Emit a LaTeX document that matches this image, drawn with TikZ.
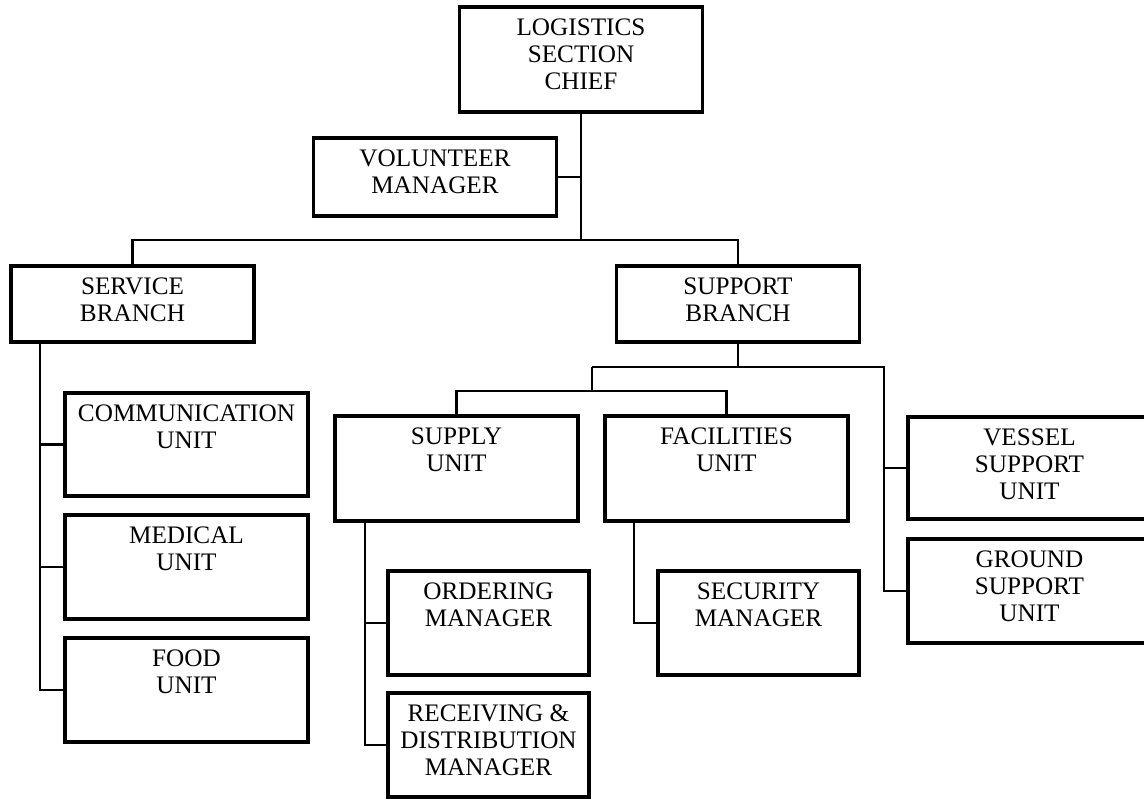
\documentclass[tikz,border=0pt]{standalone}
\usepackage{fontspec}
\setmainfont{Liberation Serif}
\usetikzlibrary{positioning}
\tikzset{
  unitbox/.style={draw=black, line width=3.6pt, inner sep=0pt, outer sep=0pt,
    minimum width=243pt, minimum height=#1},
  unitbox/.default=104pt,
  unittext/.style={inner sep=0pt, align=center, font=\fontsize{25.2}{27}\selectfont},
  link/.style={draw=black, line width=2.6pt}
}

\begin{document}
\begin{tikzpicture}[x=1pt,y=-1pt]
\path[use as bounding box, clip] (0,0) rectangle (1144,799);

\node[unitbox=105pt] (chief) at (581,59.5) {};
\node[unittext, below=12pt of chief.north] {LOGISTICS\\SECTION\\CHIEF};
\node[unitbox=78pt] (volunteer) at (435,177) {};
\node[unittext, below=12pt of volunteer.north] {VOLUNTEER\\MANAGER};

\node[unitbox=76pt] (service) at (132.5,304) {};
\node[unittext, below=12pt of service.north] {SERVICE\\BRANCH};
\node[unitbox=76pt] (support) at (738,304) {};
\node[unittext, below=12pt of support.north] {SUPPORT\\BRANCH};

\node[unitbox=103pt] (comm) at (186.5,444.5) {};
\node[unittext, below=12pt of comm.north] {COMMUNICATION\\UNIT};
\node[unitbox] (medical) at (186.5,567) {};
\node[unittext, below=12pt of medical.north] {MEDICAL\\UNIT};
\node[unitbox] (food) at (186.5,690) {};
\node[unittext, below=12pt of food.north] {FOOD\\UNIT};

\node[unitbox=105pt] (supply) at (456.5,468.5) {};
\node[unittext, below=12pt of supply.north] {SUPPLY\\UNIT};
\node[unitbox=105pt] (facilities) at (726.5,468.5) {};
\node[unittext, below=12pt of facilities.north] {FACILITIES\\UNIT};
\node[unitbox=102pt] (vessel) at (1029.5,468) {};
\node[unittext, below=12pt of vessel.north] {VESSEL\\SUPPORT\\UNIT};
\node[unitbox] (ground) at (1029.5,591) {};
\node[unittext, below=12pt of ground.north] {GROUND\\SUPPORT\\UNIT};

\node[unitbox, minimum width=201pt] (ordering) at (488.5,623) {};
\node[unittext, below=12pt of ordering.north] {ORDERING\\MANAGER};
\node[unitbox, minimum width=201pt] (receiving) at (488.5,745) {};
\node[unittext, below=12pt of receiving.north] {RECEIVING \&\\DISTRIBUTION\\MANAGER};
\node[unitbox, minimum width=201pt] (security) at (758.5,623) {};
\node[unittext, below=12pt of security.north] {SECURITY\\MANAGER};

\coordinate (bus) at (581,240);
\draw[link] (chief.south) -- (bus);
\draw[link] (volunteer.east) -- (volunteer.east -| bus);
\draw[link] (service.north) -- (service.north |- bus) -- (support.north |- bus) -- (support.north);

\coordinate (svcline) at (40,0);
\draw[link] (service.south -| svcline) |- (food.west);
\draw[link] (svcline |- comm.west) -- (comm.west);
\draw[link] (svcline |- medical.west) -- (medical.west);

\coordinate (unitsplit) at (592,367);
\coordinate (sidesplit) at (884,367);
\coordinate (unitbus) at (0,391);
\draw[link] (support.south) -- (support.south |- unitsplit);
\draw[link] (unitsplit) -- (sidesplit) |- (ground.west);
\draw[link] (sidesplit |- vessel.west) -- (vessel.west);
\draw[link] (unitsplit) -- (unitsplit |- unitbus);
\draw[link] (supply.north) -- (supply.north |- unitbus) -- (facilities.north |- unitbus) -- (facilities.north);

\coordinate (supline) at (365,0);
\draw[link] (supply.south -| supline) |- (receiving.west);
\draw[link] (supline |- ordering.west) -- (ordering.west);
\coordinate (facline) at (634,0);
\draw[link] (facilities.south -| facline) |- (security.west);
\end{tikzpicture}
\end{document}
